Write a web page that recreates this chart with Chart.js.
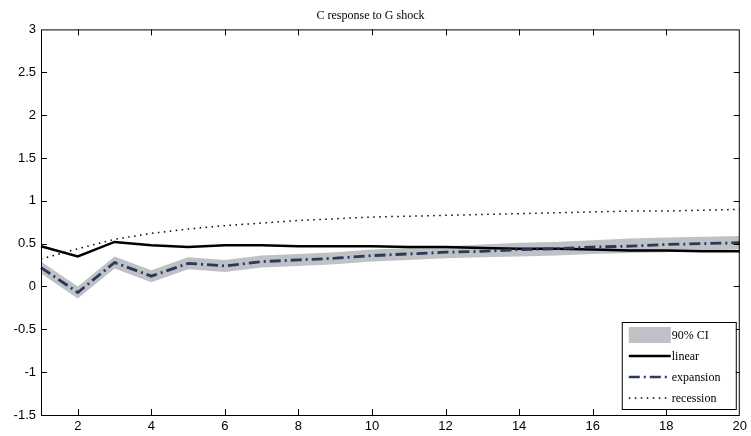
<!DOCTYPE html>
<html>
<head>
<meta charset="utf-8">
<script src="https://cdn.jsdelivr.net/npm/chart.js@4.4.0/dist/chart.umd.min.js"></script>
<style>
  html, body { margin: 0; padding: 0; background: #fff; }
</style>
</head>
<body>
<canvas id="irfChart" width="751" height="436"></canvas>
<script>
// impulse response horizon
const periods = [1, 2, 3, 4, 5, 6, 7, 8, 9, 10, 11, 12, 13, 14, 15, 16, 17, 18, 19, 20];

const linearIrf    = [0.47, 0.35, 0.52, 0.48, 0.46, 0.48, 0.48, 0.47, 0.47, 0.47, 0.46, 0.46, 0.45, 0.44, 0.44, 0.43, 0.42, 0.42, 0.41, 0.41];
const expansionIrf = [0.22, -0.07, 0.28, 0.12, 0.27, 0.24, 0.29, 0.31, 0.33, 0.36, 0.38, 0.40, 0.41, 0.43, 0.44, 0.46, 0.47, 0.49, 0.50, 0.51];
const ciUpper      = [0.29, 0.00, 0.35, 0.19, 0.34, 0.31, 0.36, 0.38, 0.40, 0.43, 0.45, 0.47, 0.49, 0.51, 0.52, 0.54, 0.56, 0.57, 0.58, 0.59];
const ciLower      = [0.15, -0.14, 0.21, 0.05, 0.20, 0.17, 0.22, 0.24, 0.26, 0.29, 0.31, 0.33, 0.34, 0.35, 0.36, 0.38, 0.39, 0.40, 0.42, 0.43];
const recessionIrf = [0.32, 0.44, 0.55, 0.62, 0.67, 0.71, 0.74, 0.77, 0.79, 0.81, 0.82, 0.83, 0.84, 0.85, 0.86, 0.87, 0.88, 0.88, 0.89, 0.90];

const legendItems = ['90% CI', 'linear', 'expansion', 'recession'];

const bandColor = 'rgb(190,193,198)';
const navy = '#2b3a58';

// box round the plot with inward tick marks on all four sides
const frame = {
    id: 'frame',
    afterDraw(chart) {
        const c = chart.ctx, a = chart.chartArea;
        const xs = chart.scales.x, ys = chart.scales.y;
        c.save();
        c.strokeStyle = '#000';
        c.lineWidth = 1;
        c.strokeRect(a.left + 0.5, a.top + 0.5, a.right - a.left - 1, a.bottom - a.top);
        c.beginPath();
        xs.ticks.forEach(t => {
            if (Number(xs.getLabelForValue(t.value)) % 2 !== 0) return;
            const px = Math.round(xs.getPixelForValue(t.value)) + 0.5;
            if (px <= a.left + 1 || px >= a.right - 1) return;
            c.moveTo(px, a.bottom); c.lineTo(px, a.bottom - 6);
            c.moveTo(px, a.top); c.lineTo(px, a.top + 6);
        });
        ys.ticks.forEach(t => {
            const py = Math.round(ys.getPixelForValue(t.value)) + 0.5;
            if (py <= a.top + 1 || py >= a.bottom - 1) return;
            c.moveTo(a.left, py); c.lineTo(a.left + 6, py);
            c.moveTo(a.right, py); c.lineTo(a.right - 6, py);
        });
        c.stroke();
        c.restore();
    }
};

// legend box in the lower right corner
const legendBox = {
    id: 'legendBox',
    afterDraw(chart) {
        const c = chart.ctx, a = chart.chartArea;
        const w = 114, h = 87;
        const x0 = a.right - 4 - w, y0 = a.bottom - 6 - h;
        c.save();
        c.fillStyle = '#fff';
        c.fillRect(x0, y0, w, h);
        c.strokeStyle = '#000';
        c.lineWidth = 1;
        c.strokeRect(x0 + 0.5, y0 + 0.5, w, h);
        const sx = x0 + 7, sw = 42, rowH = 21;
        c.font = '12px "Liberation Serif", "Times New Roman", serif';
        c.textBaseline = 'middle';
        legendItems.forEach((label, i) => {
            const cy = y0 + 13 + i * rowH;
            c.setLineDash([]);
            if (i === 0) {
                c.fillStyle = bandColor;
                c.fillRect(sx, cy - 8, sw, 16);
            } else {
                c.beginPath();
                if (i === 1) { c.strokeStyle = '#000'; c.lineWidth = 2.5; }
                if (i === 2) { c.strokeStyle = navy; c.lineWidth = 2.5; c.setLineDash([11, 4, 2, 4]); }
                if (i === 3) { c.strokeStyle = '#000'; c.lineWidth = 1.5; c.setLineDash([1.5, 4.5]); }
                c.moveTo(sx, cy); c.lineTo(sx + sw, cy);
                c.stroke();
            }
            c.setLineDash([]);
            c.fillStyle = '#000';
            c.fillText(label, sx + sw + 1, cy + 1);
        });
        c.restore();
    }
};

const ctx = document.getElementById('irfChart').getContext('2d');

new Chart(ctx, {
    type: 'line',
    data: {
        labels: periods,
        datasets: [
            {
                label: 'ci upper',
                data: ciUpper,
                borderWidth: 0,
                pointRadius: 0,
                fill: false,
                order: 5
            },
            {
                label: 'ci lower',
                data: ciLower,
                borderWidth: 0,
                pointRadius: 0,
                backgroundColor: bandColor,
                fill: '-1',
                order: 5
            },
            {
                label: 'recession',
                data: recessionIrf,
                borderColor: '#000',
                borderWidth: 1.5,
                borderDash: [1.5, 4.5],
                pointRadius: 0,
                fill: false,
                order: 3
            },
            {
                label: 'linear',
                data: linearIrf,
                borderColor: '#000',
                borderWidth: 2.5,
                pointRadius: 0,
                fill: false,
                order: 2
            },
            {
                label: 'expansion',
                data: expansionIrf,
                borderColor: navy,
                borderWidth: 2.8,
                borderDash: [11, 4, 2, 4],
                pointRadius: 0,
                fill: false,
                order: 1
            }
        ]
    },
    options: {
        responsive: false,
        animation: false,
        devicePixelRatio: 1,
        layout: { padding: { top: 0, right: 10, bottom: 0, left: 0 } },
        elements: { line: { tension: 0 } },
        plugins: {
            legend: { display: false },
            tooltip: { enabled: false },
            title: {
                display: true,
                text: 'C response to G shock',
                color: '#000',
                font: { family: '"Liberation Serif", "Times New Roman", serif', size: 12, weight: 'normal' },
                padding: { top: 9, bottom: 6 }
            }
        },
        scales: {
            x: {
                type: 'category',
                offset: false,
                grid: { display: false, drawTicks: false },
                border: { display: false },
                ticks: {
                    autoSkip: false,
                    maxRotation: 0,
                    padding: 4,
                    color: '#000',
                    font: { family: '"Liberation Sans", Arial, sans-serif', size: 13 },
                    callback: function(value) {
                        const p = Number(this.getLabelForValue(value));
                        return p % 2 === 0 ? String(p) : '';
                    }
                },
                afterFit(scale) { scale.height = 21; }
            },
            y: {
                min: -1.5,
                max: 3,
                grid: { display: false, drawTicks: false },
                border: { display: false },
                ticks: {
                    stepSize: 0.5,
                    padding: 5,
                    color: '#000',
                    font: { family: '"Liberation Sans", Arial, sans-serif', size: 13 },
                    callback: value => String(Math.round(value * 10) / 10)
                },
                afterFit(scale) { scale.width = 41; }
            }
        }
    },
    plugins: [frame, legendBox]
});
</script>
</body>
</html>
